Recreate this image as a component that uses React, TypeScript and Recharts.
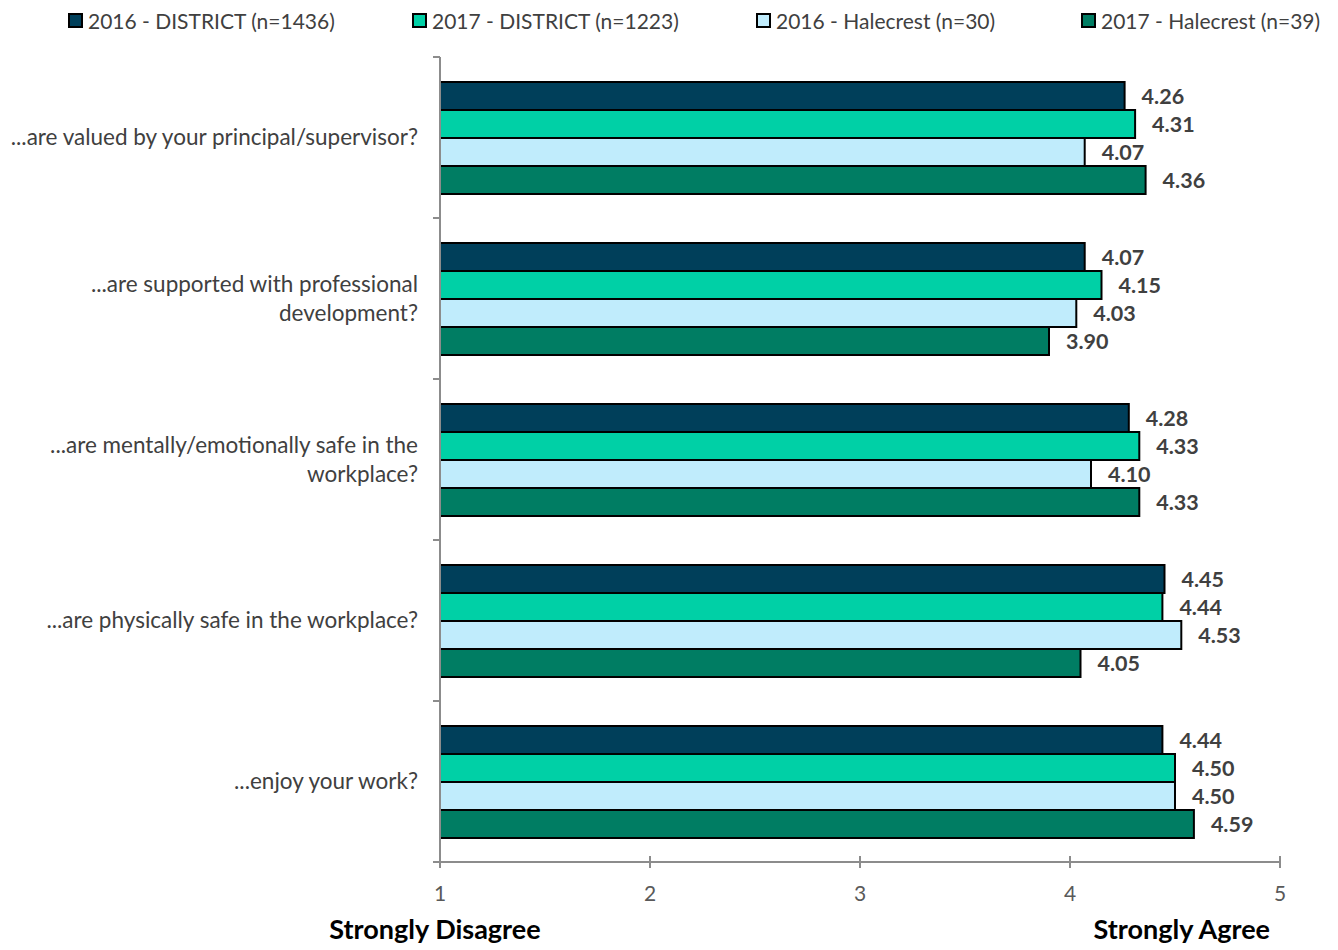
import React from 'react';
import { BarChart, Bar, XAxis, YAxis, LabelList } from 'recharts';

const categories = [
  '...are valued by your principal/supervisor?',
  '...are supported with professional\ndevelopment?',
  '...are mentally/emotionally safe in the\nworkplace?',
  '...are physically safe in the workplace?',
  '...enjoy your work?',
];
const seriesNames = [
  '2016 - DISTRICT (n=1436)',
  '2017 - DISTRICT (n=1223)',
  '2016 - Halecrest (n=30)',
  '2017 - Halecrest (n=39)',
];
const district2016 = [4.26, 4.07, 4.28, 4.45, 4.44];
const district2017 = [4.31, 4.15, 4.33, 4.44, 4.5];
const halecrest2016 = [4.07, 4.03, 4.1, 4.53, 4.5];
const halecrest2017 = [4.36, 3.9, 4.33, 4.05, 4.59];
const xTicks = [1, 2, 3, 4, 5];
const scaleEnds = ['Strongly Disagree', 'Strongly Agree'];

const colors = ['#003F5A', '#00D0A6', '#C0ECFC', '#007D63'];
const keys = ['d2016', 'd2017', 'h2016', 'h2017'];
const FONT = 'Lato, "Open Sans", sans-serif';
const AXIS = '#8C8C8C';

const W = 1338;
const H = 950;
const XAXIS_H = 88;
const M = { top: 57, right: 58, bottom: 0, left: 0 };
const BAND = (H - M.top - XAXIS_H) / categories.length;

const data = categories.map((c, i) => ({
  category: c,
  d2016: district2016[i],
  d2017: district2017[i],
  h2016: halecrest2016[i],
  h2017: halecrest2017[i],
}));

const YTick = (props: any) => {
  const { x, y, payload, index } = props;
  const lines = String(payload.value).split('\n');
  const lh = 29;
  const startY = y - ((lines.length - 1) * lh) / 2;
  const half = BAND / 2;
  return (
    <g>
      <line x1={x - 7} x2={x} y1={y - half} y2={y - half} stroke={AXIS} strokeWidth={2} />
      {index === categories.length - 1 && (
        <line x1={x - 7} x2={x} y1={y + half} y2={y + half} stroke={AXIS} strokeWidth={2} />
      )}
      <text x={x - 22} y={startY} textAnchor="end" fill="#404040" fontSize={22.5} fontFamily={FONT}>
        {lines.map((l, i) => (
          <tspan key={i} x={x - 22} dy={i === 0 ? '0.35em' : lh}>
            {l}
          </tspan>
        ))}
      </text>
    </g>
  );
};

const XTick = (props: any) => {
  const { x, y, payload } = props;
  const v = payload.value;
  return (
    <g>
      <line x1={x} x2={x} y1={y - 6} y2={y + 6} stroke={AXIS} strokeWidth={2} />
      <text x={x} y={y + 39} textAnchor="middle" fill="#595959" fontSize={21} fontFamily={FONT}>
        {v}
      </text>
      {v === xTicks[0] && (
        <text x={x - 5} y={y + 77} textAnchor="middle" fill="#000" fontSize={27} fontWeight="bold" fontFamily={FONT}>
          {scaleEnds[0]}
        </text>
      )}
      {v === xTicks[xTicks.length - 1] && (
        <text x={x - 10} y={y + 77} textAnchor="end" fill="#000" fontSize={27} fontWeight="bold" fontFamily={FONT}>
          {scaleEnds[1]}
        </text>
      )}
    </g>
  );
};

const legendX = [68, 412, 756, 1081];

export default function App() {
  return (
    <div style={{ position: 'relative', width: W, height: H, fontFamily: FONT }}>
      <style>{'body{margin:0}'}</style>
      {seriesNames.map((n, i) => (
        <div
          key={n}
          style={{
            position: 'absolute',
            left: legendX[i],
            top: 8,
            height: 24,
            display: 'flex',
            alignItems: 'center',
            whiteSpace: 'nowrap',
            color: '#404040',
            fontSize: 21,
          }}
        >
          <span
            style={{
              display: 'inline-block',
              width: 11,
              height: 11,
              background: colors[i],
              border: '2px solid #000',
              marginRight: 5,
            }}
          />
          {n}
        </div>
      ))}
      <BarChart
        width={W}
        height={H}
        data={data}
        layout="vertical"
        margin={M}
        barGap={0}
        barSize={28}
        style={{ position: 'absolute', left: 0, top: 0 }}
      >
        <XAxis
          type="number"
          domain={[1, 5]}
          ticks={xTicks}
          allowDataOverflow
          axisLine={{ stroke: AXIS, strokeWidth: 2 }}
          tickLine={false}
          tickSize={0}
          tickMargin={0}
          tick={<XTick />}
          height={XAXIS_H}
        />
        <YAxis
          type="category"
          dataKey="category"
          width={440}
          axisLine={{ stroke: AXIS, strokeWidth: 2 }}
          tickLine={false}
          tickSize={0}
          tickMargin={0}
          tick={<YTick />}
          interval={0}
        />
        {keys.map((k, i) => (
          <Bar key={k} dataKey={k} fill={colors[i]} stroke="#000" strokeWidth={2} isAnimationActive={false}>
            <LabelList
              dataKey={k}
              position="right"
              offset={17}
              formatter={(v: any) => Number(v).toFixed(2)}
              fill="#404040"
              fontSize={21.5}
              fontWeight="bold"
              fontFamily={FONT}
            />
          </Bar>
        ))}
      </BarChart>
    </div>
  );
}
